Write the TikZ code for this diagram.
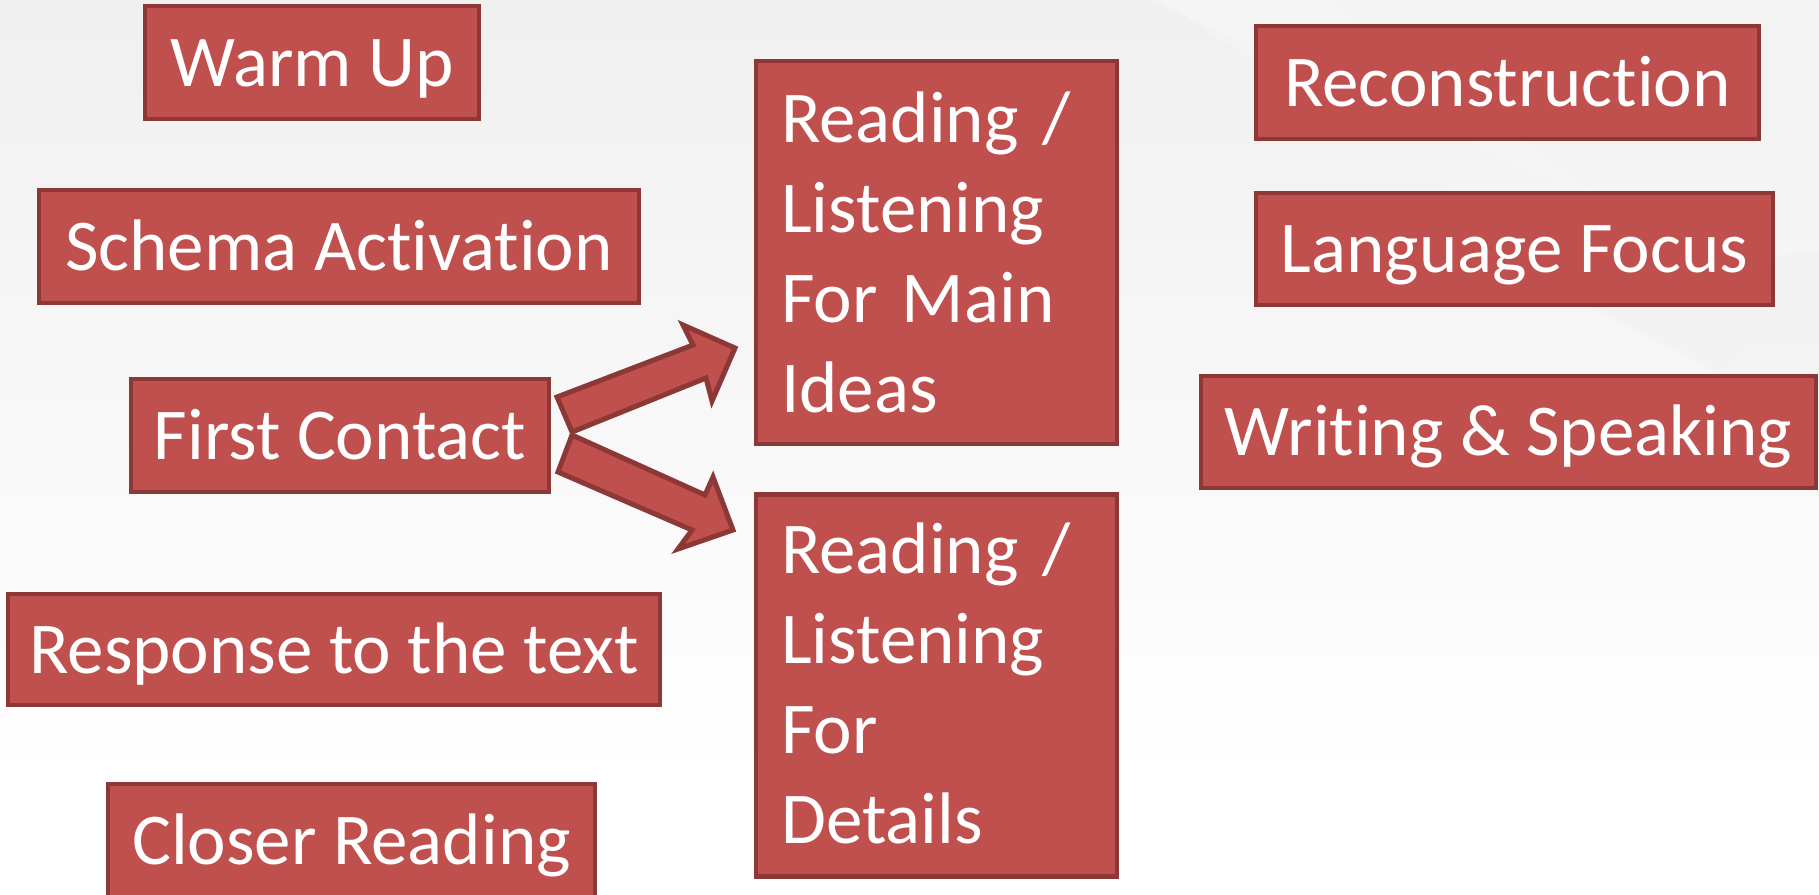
\documentclass[tikz,border=0pt]{standalone}
\usepackage{fontspec}
\setmainfont{Carlito}[Ligatures={NoCommon,NoContextual}]
\definecolor{boxfill}{HTML}{C0504D}
\definecolor{boxline}{HTML}{8C3836}
\begin{document}
\begin{tikzpicture}[x=1pt,y=-1pt,
  stage/.style={draw=boxline,line width=4.5pt,fill=boxfill,text=white,
    inner sep=0pt,text height=47pt,text depth=0pt,minimum height=113pt},
  tallbox/.style={draw=boxline,line width=4.5pt,fill=boxfill,inner sep=0pt},
  talltext/.style={text=white,anchor=base west,text width=330pt,align=left,inner sep=0pt},
  blockarrow/.style={draw=boxline,line width=5pt,fill=boxfill,line join=miter}]
\useasboundingbox (0,0) rectangle (1819,894);
% background
\shade[top color=black!6,bottom color=white] (0,0) rectangle (1819,780);
\fill[white] (0,780) rectangle (1819,894);
\fill[black!4,opacity=0.6] (1160,0) -- (1819,0) -- (1819,260) -- (1720,370) -- cycle;
\fill[black!6,opacity=0.5] (1560,290) -- (1819,250) -- (1819,380) -- (1720,375) -- cycle;
\fill[black!3,opacity=0.6] (1150,0) -- (1330,0) -- (1600,200) -- cycle;

\fontsize{73}{90}\selectfont
\node[stage,minimum width=334pt] (warm) at (312,62.5) {Warm Up};
\node[stage,minimum width=600pt] (schema) at (339,246.5) {Schema Activation};
\node[stage,minimum width=418pt] (first) at (340,435.5) {First Contact};
\node[stage,minimum width=652pt,minimum height=111pt] (resp) at (334,649.5) {Response to the text};
\node[stage,minimum width=487pt] (closer) at (351.5,840.5) {Closer Reading};

\node[tallbox,minimum width=361pt,minimum height=383pt] (main) at (936.5,252.5) {};
\node[talltext] (mainT) at (781,142) {Reading /\\Listening\\For Main\\Ideas};
\node[tallbox,minimum width=361pt,minimum height=382pt] (det) at (936.5,685.5) {};
\node[talltext] (detT) at (781,573) {Reading /\\Listening\\For\\Details};

\node[stage,minimum width=503pt] (recon) at (1507.5,82.5) {Reconstruction};
\node[stage,minimum width=517pt,minimum height=112pt] (lang) at (1514.5,249) {Language Focus};
\node[stage,minimum width=615pt,minimum height=112pt] (write) at (1508.5,432) {Writing \& Speaking};

% block arrows from First Contact
\draw[blockarrow] (557,397) -- (693,345) -- (683,325) -- (735,348) -- (712,401) -- (706,378) -- (572,432) -- cycle;
\draw[blockarrow] (572,435) -- (705,495) -- (713,477) -- (733,530) -- (678,549) -- (692,530) -- (558,472) -- cycle;
\end{tikzpicture}
\end{document}
